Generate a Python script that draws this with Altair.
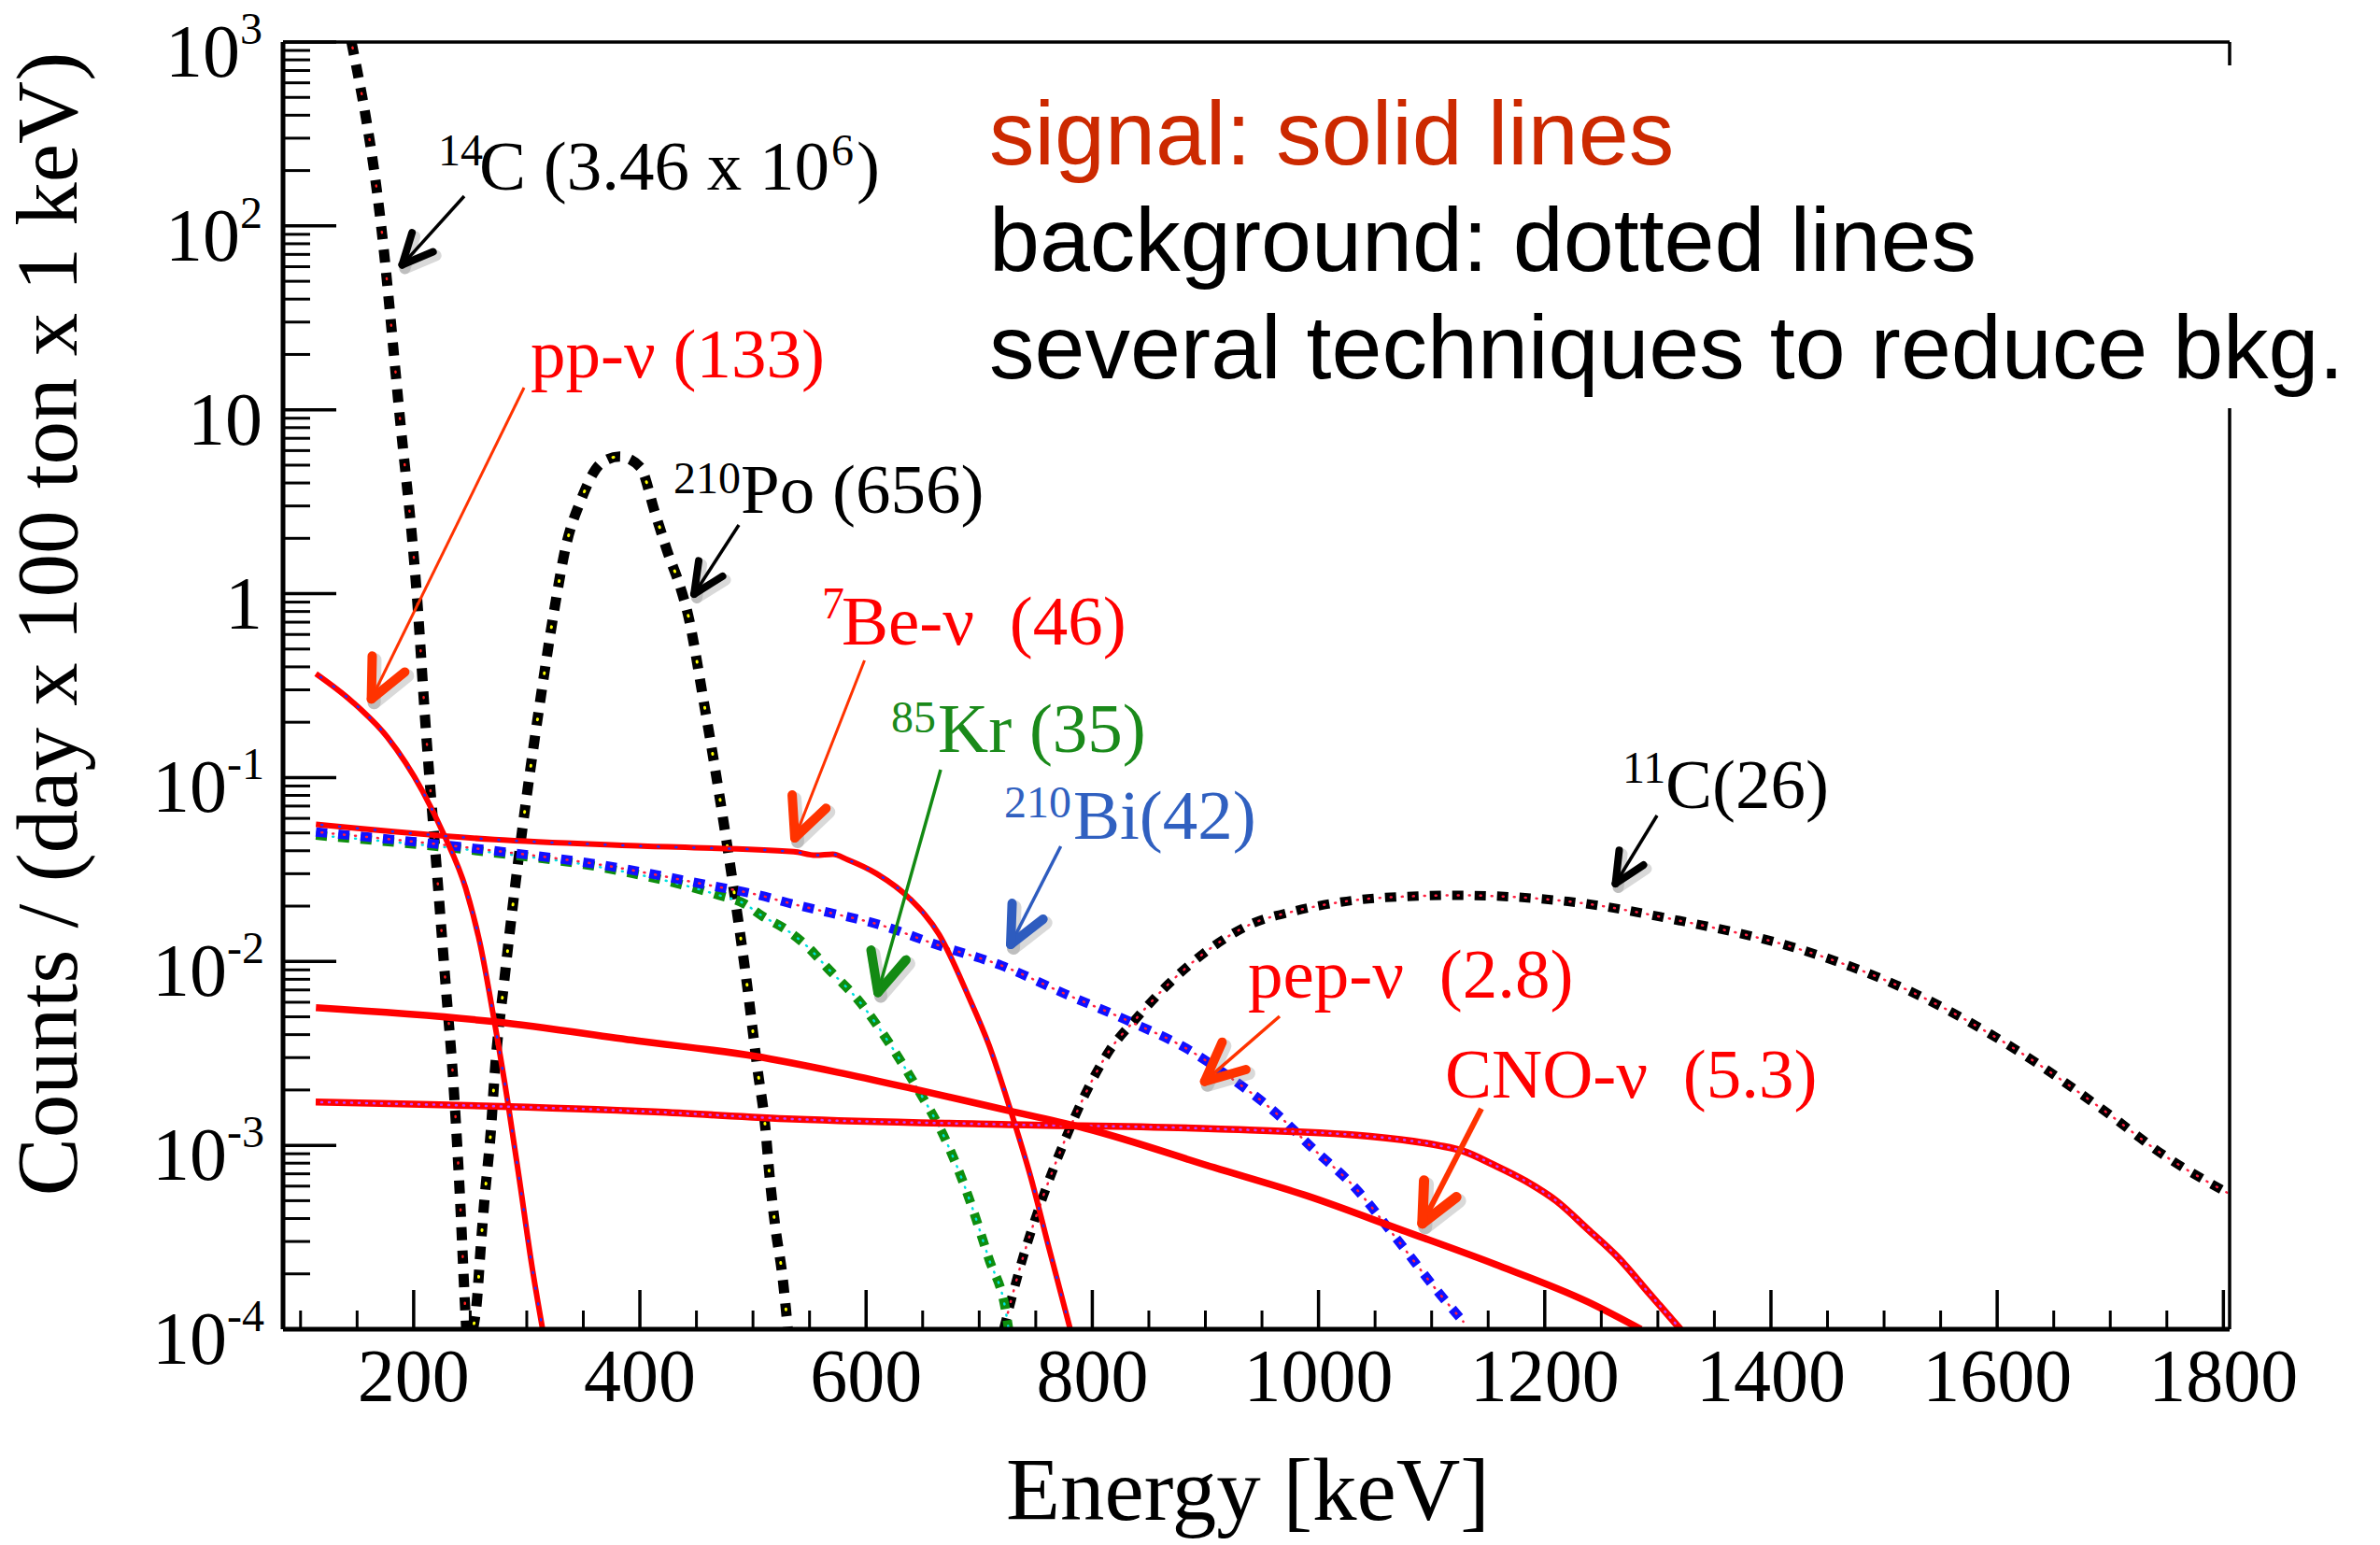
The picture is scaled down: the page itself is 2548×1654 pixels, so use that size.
import math
import pandas as pd
import altair as alt

# ------------------------------------------------------------------ axes
E_MIN, E_MAX = 84.5, 1805.5          # keV
V_MIN, V_MAX = 1e-4, 1e3             # counts / (day x 100 ton x 1 keV)
W, H = 2084, 1378                    # plot area in px

x_major = [200, 400, 600, 800, 1000, 1200, 1400, 1600, 1800]
x_labels = ["200", "400", "600", "800", "1000", "1200", "1400", "1600", "1800"]
x_minor = [100, 150, 250, 300, 350, 450, 500, 550, 650, 700, 750, 850, 900, 950,
           1050, 1100, 1150, 1250, 1300, 1350, 1450, 1500, 1550, 1650, 1700, 1750]
y_major = [1e3, 1e2, 1e1, 1e0, 1e-1, 1e-2, 1e-3, 1e-4]
y_label_main = ["10", "10", "10", "1", "10", "10", "10", "10"]
y_label_sup = ["3", "2", "", "", "-1", "-2", "-3", "-4"]
y_minor = [m * 10.0 ** k for k in range(-4, 3) for m in range(2, 10)]

x_title = "Energy [keV]"
y_title = "Counts / (day x 100 ton x 1 keV)"

# ------------------------------------------------------------------ spectra
c14_E = [145, 171.4, 187.2, 203, 210.9, 219.5, 228, 235.3, 241.7, 244.8, 246.5]
c14_V = [1000, 98.3, 9.89, 0.95, 0.178, 0.0373, 0.00785, 0.0021, 4.2e-4, 1.6e-4, 1e-4]

po_E = [252.5, 255.9, 259.0, 262.2, 268.5, 271.6, 280.1, 289.6, 300.2, 311.9, 323.8,
        334.6, 347.8, 366.2, 382.0, 400.3, 413.4, 424.0, 437.1, 442.3, 456.3, 470.1,
        482.7, 494.3, 504.6, 510.3, 515.0, 519.7, 526.1, 530.8]
po_V = [1e-4, 1.42e-4, 2.64e-4, 4.74e-4, 1.26e-3, 2.44e-3, 7.85e-3, 0.0253, 0.0814,
        0.262, 0.781, 1.81, 3.22, 5.15, 5.57, 4.88, 2.75, 1.72, 1.02, 0.781, 0.262,
        0.0814, 0.0253, 0.00785, 0.00244, 0.00136, 6.47e-4, 3.61e-4, 1.93e-4, 1e-4]

c11_E = [721.6, 738.2, 756.6, 775, 793.4, 815.5, 837.6, 867, 903.8, 940.7, 977.5,
         1021, 1088, 1120.5, 1220.5, 1320.5, 1420.5, 1520.5, 1620.5, 1695.5, 1745.5, 1804]
c11_V = [1e-4, 2.4e-4, 5.3e-4, 0.00104, 0.00188, 0.0033, 0.0048, 0.0075, 0.0117, 0.016,
         0.0187, 0.0211, 0.0227, 0.0229, 0.0212, 0.0166, 0.0119, 0.007, 0.0032, 0.00153,
         9e-4, 5.5e-4]

kr_E = [113.6, 271.4, 366, 467, 492.4, 508, 530, 549, 565.2, 594.6, 620.4, 646.1,
        668.2, 690.3, 708.7, 723.4, 726]
kr_V = [0.0486, 0.039, 0.0325, 0.0232, 0.0206, 0.0177, 0.0148, 0.0119, 0.0093, 0.006,
        0.0036, 0.002, 0.00114, 5.3e-4, 2.4e-4, 1.26e-4, 1e-4]

bi_E = [113.6, 271.4, 366, 460.8, 501.9, 535.7, 568, 609.4, 664.6, 719.7, 775, 830.2,
        885.5, 922.3, 959.1, 995.9, 1031, 1070, 1105.5, 1128]
bi_V = [0.0506, 0.040, 0.0335, 0.026, 0.0232, 0.0205, 0.0184, 0.016, 0.0122, 0.0095,
        0.0067, 0.0048, 0.0033, 0.00233, 0.00156, 9.5e-4, 6.0e-4, 3.05e-4, 1.6e-4, 1.1e-4]

pp_E = [113.6, 145.2, 176.7, 208, 227, 246, 258.8, 271.4, 284, 293.5, 304.6, 314]
pp_V = [0.367, 0.26, 0.166, 0.084, 0.0486, 0.025, 0.0124, 0.0047, 0.0016, 6.5e-4,
        2.2e-4, 1e-4]

be7_E = [113.6, 271.4, 397.7, 536, 555.5, 570.7, 583.5, 609.4, 638.8, 664.6, 690.3,
         708.7, 727, 745.6, 762.1, 780.5]
be7_V = [0.0557, 0.046, 0.0425, 0.0395, 0.0378, 0.0383, 0.0358, 0.030, 0.0219, 0.014,
         0.0065, 0.0035, 0.0016, 6.7e-4, 2.7e-4, 1e-4]

pep_E = [113.4, 413, 535.7, 719.7, 907.8, 1045.5, 1105.5, 1128, 1155.5, 1183, 1210,
         1238, 1265, 1293, 1320]
pep_V = [0.00172, 0.00152, 0.00139, 0.0013, 0.00123, 0.00112, 0.001, 9.3e-4, 7.8e-4,
         6.4e-4, 5.0e-4, 3.5e-4, 2.45e-4, 1.55e-4, 1e-4]

cno_E = [113.6, 271.4, 397.7, 501.9, 574.4, 646.1, 730.8, 793.4, 907.8, 990.4, 1073,
         1155.6, 1238, 1285]
cno_V = [0.0056, 0.0047, 0.0037, 0.00305, 0.0025, 0.002, 0.00152, 0.00124, 7.57e-4,
         5.3e-4, 3.47e-4, 2.26e-4, 1.41e-4, 1e-4]

# ------------------------------------------------------------------ labels (data coords)
ann_text = ["14", "C (3.46 x 10", "6", ")",
            "pp-\u03bd (133)",
            "210", "Po (656)",
            "7", "Be-\u03bd\u00a0 (46)",
            "85", "Kr (35)",
            "210", "Bi(42)",
            "11", "C(26)",
            "pep-\u03bd\u00a0 (2.8)",
            "CNO-\u03bd\u00a0 (5.3)"]
ann_E = [221.6, 257.9, 569.3, 591.6, 303.3, 429.7, 489.1, 561.0, 578.3, 622.1, 663.4,
         722.0, 783.1, 1268.7, 1306.7, 937.6, 1111.8]
ann_V = [213.5, 157.5, 213.5, 157.5, 15.0, 3.52, 2.754, 0.734, 0.529, 0.1762, 0.1378,
         0.0608, 0.0465, 0.0937, 0.0683, 0.00636, 0.001819]
ann_key = ["k", "k", "k", "k", "r", "k", "k", "r", "r", "g", "g", "b", "b", "k", "k", "r", "r"]
ann_sup = [1, 0, 1, 0, 0, 1, 0, 1, 0, 1, 0, 1, 0, 1, 0, 0, 0]

note_text = ["signal: solid lines", "background: dotted lines",
             "several techniques to reduce bkg."]
note_E = [708.8, 708.8, 708.8]
note_V = [216.1, 56.95, 14.84]

arrow_name = ["c14", "pp", "po", "be7", "kr", "bi", "c11", "pep", "cno"]
arrow_tail_E = [244.7, 297.6, 487.5, 598.6, 665.9, 772.1, 1299.3, 965.6, 1144.0]
arrow_tail_V = [145.1, 13.2, 2.364, 0.4337, 0.1104, 0.04229, 0.06221, 0.005031, 0.001581]
arrow_tip_E = [189.8, 162.6, 447.9, 537.0, 610.5, 727.8, 1262.5, 899.3, 1091.8]
arrow_tip_V = [61.4, 0.2676, 0.995, 0.04699, 0.006782, 0.01238, 0.02649, 0.002227, 3.763e-4]

# ------------------------------------------------------------------ styles
SERIF = "Liberation Serif"
SANS = "Liberation Sans"
COL = {"k": "#000000", "r": "#ff0000", "g": "#1a8a1a", "b": "#3060c0"}

LINE_STYLE = {
    "c14": dict(color="#000000", width=11, dash=[14, 11], dots=("#ff2020", 2.5, [1, 49])),
    "po": dict(color="#000000", width=11, dash=[14, 11], dots=("#ffff00", 3, [1, 49])),
    "c11": dict(color="#000000", width=10, dash=[12, 12], dots=("#ff2040", 2.5, [1, 11])),
    "kr": dict(color="#0e8e0e", width=10, dash=[12, 12], dots=("#00e0e0", 2.5, [1, 11])),
    "bi": dict(color="#1010ff", width=10, dash=[12, 12], dots=("#ff2040", 2.5, [1, 11])),
    "pp": dict(color="#ff0000", width=6, dash=None, dots=("#2030ff", 2.5, [1, 16])),
    "be7": dict(color="#ff0000", width=6, dash=None, dots=("#2030ff", 2.5, [1, 18])),
    "pep": dict(color="#ff0000", width=7.5, dash=None, dots=("#c040ff", 2.5, [1, 7])),
    "cno": dict(color="#ff0000", width=7.5, dash=None, dots=None),
}
SERIES = {
    "c14": (c14_E, c14_V), "po": (po_E, po_V), "c11": (c11_E, c11_V),
    "kr": (kr_E, kr_V), "bi": (bi_E, bi_V), "pp": (pp_E, pp_V),
    "be7": (be7_E, be7_V), "pep": (pep_E, pep_V), "cno": (cno_E, cno_V),
}
ARROW_STYLE = {
    "c14": dict(color="#000000", shaft=3.5, head=8, length=36),
    "pp": dict(color="#ff3300", shaft=3, head=10, length=46),
    "po": dict(color="#000000", shaft=3.5, head=8, length=36),
    "be7": dict(color="#ff3300", shaft=3, head=10, length=46),
    "kr": dict(color="#138a13", shaft=3.5, head=10, length=46),
    "bi": dict(color="#2e5cbf", shaft=3.5, head=10, length=44),
    "c11": dict(color="#000000", shaft=3.5, head=8, length=36),
    "pep": dict(color="#ff3300", shaft=3.5, head=10, length=46),
    "cno": dict(color="#ff3300", shaft=6, head=11, length=46),
}

# ------------------------------------------------------------------ helpers
XS = alt.Scale(domain=[E_MIN, E_MAX], nice=False, zero=False)
YS = alt.Scale(type="log", domain=[V_MIN, V_MAX], nice=False)
LOG_SPAN = math.log10(V_MAX) - math.log10(V_MIN)
DUMMY = pd.DataFrame({"k": [0]})


def xe(f="E"):
    return alt.X(f"{f}:Q", scale=XS, axis=None)


def ye(f="v"):
    return alt.Y(f"{f}:Q", scale=YS, axis=None)


def to_px(e, v):
    return ((e - E_MIN) / (E_MAX - E_MIN) * W,
            (math.log10(V_MAX) - math.log10(v)) / LOG_SPAN * H)


def from_px(x, y):
    return (E_MIN + x / W * (E_MAX - E_MIN),
            10 ** (math.log10(V_MAX) - y / H * LOG_SPAN))


layers = []

# curves: background first, then signal
for key in ["c14", "po", "c11", "kr", "bi", "pp", "be7", "pep", "cno"]:
    E, V = SERIES[key]
    df = pd.DataFrame({"E": E, "v": V})
    st = LINE_STYLE[key]
    props = dict(color=st["color"], strokeWidth=st["width"], clip=True,
                 interpolate="monotone", strokeCap="butt")
    if st["dash"]:
        props["strokeDash"] = st["dash"]
    layers.append(alt.Chart(df).mark_line(**props).encode(
        x=xe(), y=ye(), strokeWidth=alt.value(st["width"])))
    if st["dots"]:
        c, w, d = st["dots"]
        layers.append(alt.Chart(df).mark_line(
            color=c, strokeWidth=w, strokeDash=d, strokeDashOffset=-6,
            strokeCap="round", clip=True, interpolate="monotone"
        ).encode(x=xe(), y=ye(), strokeWidth=alt.value(w)))

# arrows
shafts, heads, shadows = [], [], []
for i, name in enumerate(arrow_name):
    st = ARROW_STYLE[name]
    tx, ty = to_px(arrow_tail_E[i], arrow_tail_V[i])
    px_, py_ = to_px(arrow_tip_E[i], arrow_tip_V[i])
    dx, dy = tx - px_, ty - py_
    n = math.hypot(dx, dy)
    ux, uy = dx / n, dy / n
    shafts.append(dict(E=arrow_tail_E[i], v=arrow_tail_V[i], E2=arrow_tip_E[i],
                       v2=arrow_tip_V[i], c=st["color"], w=st["shaft"]))
    for sgn in (1, -1):
        a = math.radians(25 * sgn)
        rx = ux * math.cos(a) - uy * math.sin(a)
        ry = ux * math.sin(a) + uy * math.cos(a)
        ex, ey = px_ + st["length"] * rx, py_ + st["length"] * ry
        e2, v2 = from_px(ex, ey)
        heads.append(dict(E=arrow_tip_E[i], v=arrow_tip_V[i], E2=e2, v2=v2,
                          c=st["color"], w=st["head"]))
        s1 = from_px(px_ + 3, py_ + 4)
        s2 = from_px(ex + 3, ey + 4)
        shadows.append(dict(E=s1[0], v=s1[1], E2=s2[0], v2=s2[1], c="#808080",
                            w=st["head"] + 4))


def seg_layer(rows, opacity=1.0, cap="round"):
    return alt.Chart(pd.DataFrame(rows)).mark_rule(strokeCap=cap, opacity=opacity).encode(
        x=xe(), y=ye(), x2="E2:Q", y2="v2:Q",
        color=alt.Color("c:N", scale=None),
        strokeWidth=alt.StrokeWidth("w:Q", scale=None))


layers.append(seg_layer(shadows, opacity=0.3))
layers.append(seg_layer(shafts, cap="butt"))
layers.append(seg_layer(heads))

# annotation texts
ann_df = pd.DataFrame({"E": ann_E, "v": ann_V, "t": ann_text,
                       "c": [COL[k] for k in ann_key],
                       "s": [48 if s else 75 for s in ann_sup]})
layers.append(alt.Chart(ann_df).mark_text(
    font=SERIF, align="left", baseline="alphabetic").encode(
    x=xe(), y=ye(), text="t:N", color=alt.Color("c:N", scale=None),
    size=alt.Size("s:Q", scale=None)))


# frame
def hrule(y, w):
    return alt.Chart(DUMMY).mark_rule(color="black", strokeWidth=w).encode(
        x=alt.value(0), x2=alt.value(W), y=alt.value(y))


def vrule(x, w):
    return alt.Chart(DUMMY).mark_rule(color="black", strokeWidth=w).encode(
        x=alt.value(x), y=alt.value(0), y2=alt.value(H))


layers += [hrule(0, 3.5), vrule(W, 3.5), hrule(H, 5), vrule(0, 5)]

# ticks (inside the frame)
layers.append(alt.Chart(pd.DataFrame({"v": y_major})).mark_rule(
    color="black", strokeWidth=3.5).encode(y=ye(), x=alt.value(0), x2=alt.value(57)))
layers.append(alt.Chart(pd.DataFrame({"v": y_minor})).mark_rule(
    color="black", strokeWidth=3).encode(y=ye(), x=alt.value(0), x2=alt.value(29)))
layers.append(alt.Chart(pd.DataFrame({"E": x_major})).mark_rule(
    color="black", strokeWidth=3.5).encode(x=xe(), y=alt.value(H), y2=alt.value(H - 42)))
layers.append(alt.Chart(pd.DataFrame({"E": x_minor})).mark_rule(
    color="black", strokeWidth=3).encode(x=xe(), y=alt.value(H), y2=alt.value(H - 20)))

# tick labels
layers.append(alt.Chart(pd.DataFrame({"E": x_major, "t": x_labels})).mark_text(
    font=SERIF, fontSize=80, align="center", baseline="alphabetic", color="black").encode(
    x=xe(), y=alt.value(H + 77), text="t:N"))

ylab = pd.DataFrame({"v": y_major, "m": y_label_main, "s": y_label_sup})
ylab["off"] = [-22 - (0 if s == "" else (24 if len(s) == 1 else 38)) for s in y_label_sup]
for off in sorted(set(ylab["off"])):
    sub = ylab[ylab["off"] == off]
    layers.append(alt.Chart(sub).mark_text(
        font=SERIF, fontSize=80, align="right", baseline="alphabetic", dy=37,
        color="black").encode(x=alt.value(off), y=ye(), text="m:N"))
    if (sub["s"] != "").any():
        layers.append(alt.Chart(sub).mark_text(
            font=SERIF, fontSize=48, align="left", baseline="alphabetic", dy=2,
            color="black").encode(x=alt.value(off), y=ye(), text="s:N"))

# axis titles
layers.append(alt.Chart(DUMMY).mark_text(
    font=SERIF, fontSize=93, angle=270, align="center", baseline="alphabetic",
    color="black").encode(x=alt.value(-221), y=alt.value(623), text=alt.value(y_title)))
layers.append(alt.Chart(DUMMY).mark_text(
    font=SERIF, fontSize=95, align="center", baseline="alphabetic",
    color="black").encode(x=alt.value(1033), y=alt.value(1582), text=alt.value(x_title)))

# note box (white background hides part of the right frame) and note text
layers.append(alt.Chart(DUMMY).mark_rect(color="white").encode(
    x=alt.value(753), x2=alt.value(2217), y=alt.value(25), y2=alt.value(392)))
note_df = pd.DataFrame({"E": note_E, "v": note_V, "t": note_text,
                        "c": ["#cc2900", "#000000", "#000000"]})
layers.append(alt.Chart(note_df).mark_text(
    font=SANS, fontSize=97, fontWeight=300, align="left", baseline="alphabetic").encode(
    x=xe(), y=ye(), text="t:N", color=alt.Color("c:N", scale=None)))

chart = alt.layer(*layers).properties(
    width=W, height=H,
    padding={"left": 303, "top": 45, "right": 161, "bottom": 231},
    autosize=alt.AutoSizeParams(type="none"),
    background="white",
).configure_view(stroke=None)

chart.save("out.html", embed_options={"renderer": "svg", "actions": False})
